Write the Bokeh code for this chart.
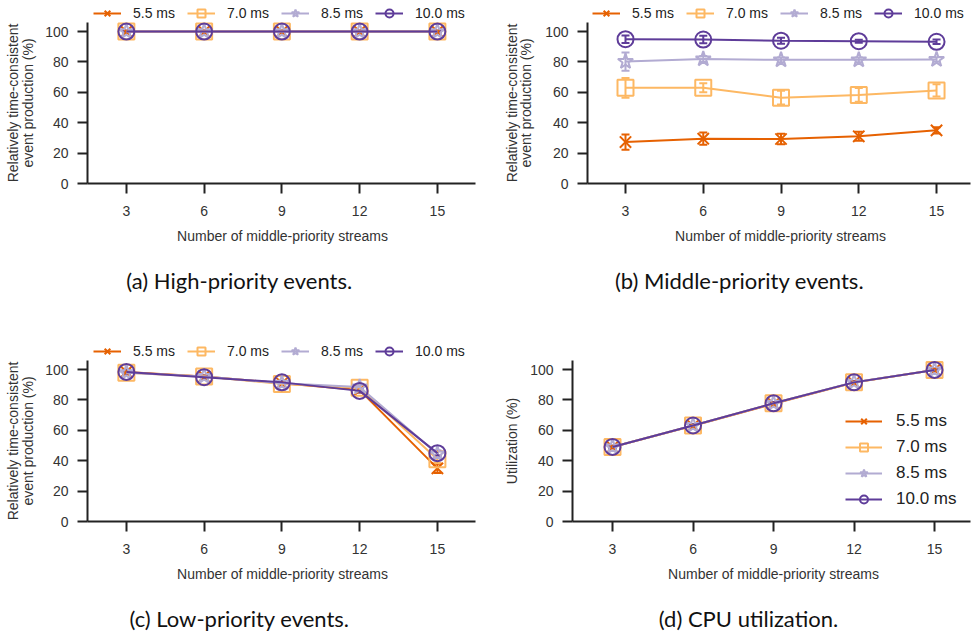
import math
from bokeh.plotting import figure
from bokeh.models import (ColumnDataSource, Range1d, FixedTicker, Legend, LegendItem,
                          Whisker, TeeHead, Label)
from bokeh.layouts import column, row
from bokeh.embed import file_html
from bokeh.resources import INLINE

# ---------------- data ----------------
streams = [3, 6, 9, 12, 15]
series_labels = ["5.5 ms", "7.0 ms", "8.5 ms", "10.0 ms"]
colors = ["#e66101", "#fdb863", "#b2abd2", "#5e3c99"]
markers = ["x", "square", "star", "circle"]
y_ticks = [0, 20, 40, 60, 80, 100]

# (a) high-priority events
high_55 = [100, 100, 100, 100, 100]
high_70 = [100, 100, 100, 100, 100]
high_85 = [100, 100, 100, 100, 100]
high_100 = [100, 100, 100, 100, 100]
high_err = [0.6, 0.6, 0.6, 0.6, 0.6]

# (b) middle-priority events
mid_55 = [27.3, 29.5, 29.3, 31.1, 35.0]
mid_55_err = [5.0, 4.0, 3.5, 3.0, 2.0]
mid_70 = [63.0, 63.0, 56.5, 58.3, 61.3]
mid_70_err = [6.5, 3.0, 4.5, 4.5, 4.0]
mid_85 = [80.3, 82.0, 81.4, 81.4, 81.6]
mid_85_err = [6.0, 2.0, 1.5, 1.5, 1.5]
mid_100 = [95.0, 94.8, 94.0, 93.7, 93.3]
mid_100_err = [2.5, 2.5, 2.0, 1.0, 1.5]

# (c) low-priority events
low_55 = [98.5, 95.5, 91.0, 86.5, 35.0]
low_55_err = [1.5, 1.0, 1.0, 1.5, 3.0]
low_70 = [98.0, 95.5, 90.5, 88.0, 41.0]
low_70_err = [1.5, 1.0, 1.5, 1.5, 2.5]
low_85 = [98.0, 95.5, 91.0, 88.5, 44.5]
low_85_err = [1.0, 1.0, 1.0, 1.5, 2.0]
low_100 = [98.5, 95.0, 91.6, 86.0, 45.0]
low_100_err = [1.0, 1.0, 1.0, 1.0, 1.5]

# (d) CPU utilization
cpu_55 = [49.0, 63.0, 77.5, 91.5, 99.8]
cpu_70 = [49.0, 63.2, 77.8, 91.6, 99.8]
cpu_85 = [49.1, 63.2, 77.8, 91.7, 99.8]
cpu_100 = [49.1, 63.2, 77.8, 91.6, 99.8]
cpu_err = [0.8, 0.8, 0.8, 0.8, 0.8]

YLABEL_1 = "Relatively time-consistent"
YLABEL_2 = "event production (%)"
XLABEL = "Number of middle-priority streams"
TICK_FONT = "Liberation Sans"
Y_MAX = 106


def style_axis(ax):
    ax.axis_line_width = 2
    ax.axis_line_color = "#222222"
    ax.major_tick_line_width = 2
    ax.major_tick_line_color = "#222222"
    ax.major_tick_out = 10
    ax.major_tick_in = 0
    ax.minor_tick_line_color = None
    ax.major_label_text_font = TICK_FONT
    ax.major_label_text_font_size = "14px"
    ax.major_label_text_color = "#333333"


def text_label(x, y, text, font, size, color, angle=0.0):
    return Label(x=x, y=y, x_units="screen", y_units="screen", text=text,
                 angle=angle, text_align="center", text_baseline="middle",
                 text_font=font, text_font_size=size, text_color=color)


def make_panel(W, H, L, R, T, B, x0, x1, series, errs,
               ylabels, ylabel_x, xlabel_x, caption, caption_x,
               legend_loc, inside):
    # the plotting frame covers the whole figure; axes sit at fixed data positions
    ppx = (R - L) / (x1 - x0)
    ppy = (B - T) / Y_MAX
    xr = Range1d(x0 - L / ppx, x0 + (W - L) / ppx)
    yr = Range1d(-(H - B) / ppy, B / ppy)
    p = figure(width=W, height=H, output_backend="svg", toolbar_location=None,
               x_range=xr, y_range=yr, title=None,
               min_border_left=0, min_border_right=0,
               min_border_top=0, min_border_bottom=0)
    p.outline_line_color = None
    p.grid.visible = False
    p.background_fill_color = "white"
    p.border_fill_color = "white"

    style_axis(p.xaxis[0])
    style_axis(p.yaxis[0])
    p.xaxis.ticker = FixedTicker(ticks=streams)
    p.xaxis.fixed_location = 0
    p.xaxis.bounds = (x0, x1)
    p.xaxis.major_label_standoff = 12
    p.yaxis.ticker = FixedTicker(ticks=y_ticks)
    p.yaxis.fixed_location = x0
    p.yaxis.bounds = (0, Y_MAX)
    p.yaxis.major_label_standoff = 9

    yc = H - (T + B) / 2.0
    for txt, lx in zip(ylabels, ylabel_x):
        p.add_layout(text_label(lx, yc, txt, TICK_FONT, "14px", "#333333", math.pi / 2))
    p.add_layout(text_label(xlabel_x, H - (B + 52), XLABEL, TICK_FONT, "14px", "#333333"))
    p.add_layout(text_label(caption_x, H - (B + 97), caption, "Lato", "22px", "#111111"))

    items = []
    for ys, err, lab, col, mk in zip(series, errs, series_labels, colors, markers):
        src = ColumnDataSource(dict(x=streams, y=ys,
                                    lo=[a - e for a, e in zip(ys, err)],
                                    hi=[a + e for a, e in zip(ys, err)]))
        lr = p.line("x", "y", source=src, line_color=col, line_width=2)
        w = Whisker(base="x", upper="hi", lower="lo", source=src,
                    line_color=col, line_width=2,
                    upper_head=TeeHead(size=8, line_color=col, line_width=2),
                    lower_head=TeeHead(size=8, line_color=col, line_width=2))
        p.add_layout(w)
        sr = p.scatter("x", "y", source=src, marker=mk, size=16, fill_color=None,
                       line_color=col, line_width=2)
        items.append(LegendItem(label=lab, renderers=[lr, sr]))

    if not inside:
        leg = Legend(items=items, orientation="horizontal", location=legend_loc,
                     label_text_font=TICK_FONT, label_text_font_size="14px",
                     label_text_color="#222222",
                     glyph_width=28, glyph_height=20, label_height=20,
                     label_standoff=12, spacing=12, padding=0, margin=0,
                     border_line_color=None, background_fill_alpha=0)
    else:
        leg = Legend(items=items, orientation="vertical", location=legend_loc,
                     label_text_font=TICK_FONT, label_text_font_size="17px",
                     label_text_color="#222222",
                     glyph_width=37, glyph_height=20, label_height=20,
                     label_standoff=14, spacing=6, padding=0, margin=0,
                     border_line_color=None, background_fill_alpha=0)
    p.add_layout(leg, "center")
    return p


pa = make_panel(485, 338, 87, 475, 22, 183, 1.5, 16.47,
                [high_55, high_70, high_85, high_100],
                [high_err, high_err, high_err, high_err],
                [YLABEL_1, YLABEL_2], [12, 27], 282,
                "(a) High-priority events.", 239, (93, 315), False)
pb = make_panel(486, 338, 102, 485, 22, 183, 1.534, 16.31,
                [mid_55, mid_70, mid_85, mid_100],
                [mid_55_err, mid_70_err, mid_85_err, mid_100_err],
                [YLABEL_1, YLABEL_2], [26, 40], 295,
                "(b) Middle-priority events.", 254, (107, 315), False)
pc = make_panel(485, 298, 87, 475, 22, 183, 1.5, 16.47,
                [low_55, low_70, low_85, low_100],
                [low_55_err, low_70_err, low_85_err, low_100_err],
                [YLABEL_1, YLABEL_2], [12, 27], 282,
                "(c) Low-priority events.", 239, (93, 275), False)
pd = make_panel(486, 298, 87, 485, 22, 183, 1.509, 16.34,
                [cpu_55, cpu_70, cpu_85, cpu_100],
                [cpu_err, cpu_err, cpu_err, cpu_err],
                ["Utilization (%)"], [26], 288,
                "(d) CPU utilization.", 263, (360, 127), True)

layout = column(row(pa, pb), row(pc, pd))
open("out.html", "w").write(file_html(layout, INLINE))
